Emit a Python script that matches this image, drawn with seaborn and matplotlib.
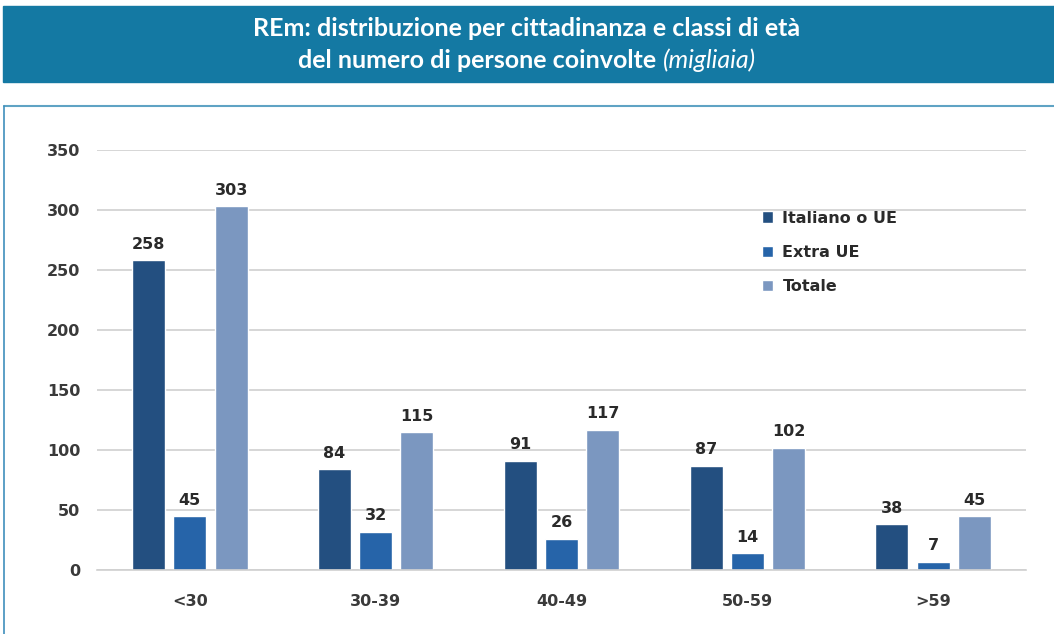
import pandas as pd
import matplotlib.pyplot as plt
import seaborn as sns
from matplotlib.patches import Rectangle
from matplotlib.lines import Line2D

# Dati (migliaia di persone)
classi = ["<30", "30-39", "40-49", "50-59", ">59"]
italiano_ue = [258, 84, 91, 87, 38]
extra_ue = [45, 32, 26, 14, 7]
totale = [303, 115, 117, 102, 45]
serie = ["Italiano o UE", "Extra UE", "Totale"]
colori = ["#234f80", "#2664a9", "#7b97c0"]

df = pd.DataFrame({"classe": classi * 3,
                   "serie": [serie[0]] * 5 + [serie[1]] * 5 + [serie[2]] * 5,
                   "valore": italiano_ue + extra_ue + totale})

sns.set_style("white")
plt.rcParams["font.family"] = ["DejaVu Sans"]

fig = plt.figure(figsize=(10.54, 6.34), dpi=100)
W, H = 1054, 634

# fascia del titolo
fig.patches.append(Rectangle((3 / W, 1 - 82 / H), 1 - 3 / W, 76 / H,
                             transform=fig.transFigure, color="#1479a3", zorder=0))
# cornice del pannello
fig.lines.append(Line2D([4 / W, 1], [1 - 106 / H, 1 - 106 / H], transform=fig.transFigure,
                        color="#5fa3c4", lw=1.5))
fig.lines.append(Line2D([4 / W, 4 / W], [0, 1 - 106 / H], transform=fig.transFigure,
                        color="#3f8fbc", lw=1.2))

title_font = ["Lato", "DejaVu Sans"]
fig.text(0.5, 1 - 28 / H, "REm: distribuzione per cittadinanza e classi di età",
         ha="center", va="center", color="white", fontsize=18, fontweight="bold",
         family=title_font)
t1 = fig.text(0, 1 - 60 / H, "del numero di persone coinvolte ", ha="left", va="center",
              color="white", fontsize=18, fontweight="bold", family=title_font)
t2 = fig.text(0, 1 - 60 / H, "(migliaia)", ha="left", va="center", color="white",
              fontsize=18, style="italic", family=title_font)
r = fig.canvas.get_renderer()
w1 = t1.get_window_extent(r).width / fig.dpi / 10.54
w2 = t2.get_window_extent(r).width / fig.dpi / 10.54
x0 = 0.5 - (w1 + w2) / 2
t1.set_x(x0)
t2.set_x(x0 + w1)

ax = fig.add_axes([97 / W, 1 - 570 / H, (1026 - 97) / W, 420 / H])
sns.barplot(data=df, x="classe", y="valore", hue="serie", palette=colori,
            width=0.665, gap=0.2, ax=ax, legend=True, saturation=1)

ax.set_ylim(0, 350)
ax.set_yticks(range(0, 351, 50))
ax.set_xlabel("")
ax.set_ylabel("")
ax.yaxis.grid(True, color="#d0d0d0", lw=1.2)
ax.set_axisbelow(True)
for s in ["top", "right", "left"]:
    ax.spines[s].set_visible(False)
ax.spines["bottom"].set_color("#d0d0d0")
ax.spines["bottom"].set_linewidth(1.2)
ax.tick_params(axis="y", length=0, pad=12, labelsize=11.5, labelcolor="#3a3a3a")
ax.tick_params(axis="x", length=0, pad=17, labelsize=11.5, labelcolor="#3a3a3a")
for lab in ax.get_yticklabels() + ax.get_xticklabels():
    lab.set_fontweight("bold")

for cont in ax.containers:
    ax.bar_label(cont, padding=6, fontsize=11.5, fontweight="bold", color="#2a2a2a")

leg = ax.legend(loc="upper left", bbox_to_anchor=(0.7, 0.89), frameon=False,
                fontsize=11.5, handlelength=0.7, handleheight=0.7, handletextpad=0.6,
                labelspacing=1.2)
for t in leg.get_texts():
    t.set_fontweight("bold")
    t.set_color("#2a2a2a")

fig.savefig("out.png", dpi=100)
